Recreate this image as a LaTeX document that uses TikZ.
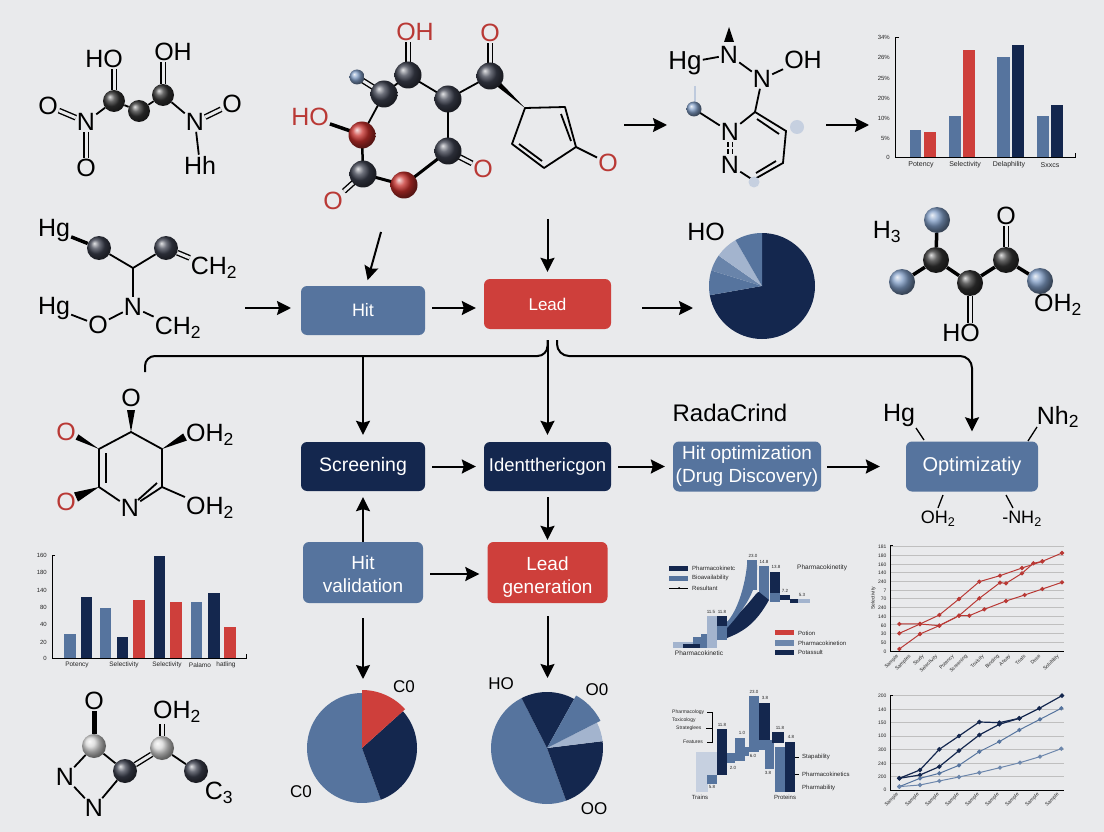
\documentclass[tikz,border=0pt]{standalone}
\usepackage{fontspec}
\setmainfont{Liberation Sans}
\usepackage{xcolor}
\usetikzlibrary{arrows.meta,calc}
\definecolor{pagebg}{HTML}{E9EAEC}
\definecolor{navy}{HTML}{14274E}
\definecolor{slate}{HTML}{56749E}
\definecolor{mist}{HTML}{A3B4CE}
\definecolor{pale}{HTML}{C6D0E0}
\definecolor{crim}{HTML}{CE3F3B}
\definecolor{atomd}{HTML}{3C404E}
\definecolor{atomr}{HTML}{C62F2B}
\definecolor{atomb}{HTML}{7F9CC5}
\definecolor{atomg}{HTML}{D6D6D6}
\tikzset{
  mol/.style={font=\fontsize{25}{27}\selectfont,inner sep=1pt},
  molred/.style={mol,text=crim!90!black},
  pielbl/.style={font=\fontsize{17}{19}\selectfont,inner sep=1pt},
  tiny/.style={font=\fontsize{6}{7}\selectfont,inner sep=0pt,text=black!85},
  tinyr/.style={tiny,anchor=east},
  tinyl/.style={tiny,anchor=west},
  tinyrot/.style={tiny,font=\fontsize{5}{6}\selectfont,anchor=north east,rotate=45},
  barlbl/.style={tiny,font=\fontsize{7}{8}\selectfont},
  valbl/.style={tiny,font=\fontsize{4.5}{5}\selectfont},
  atom/.style={circle,inner sep=0pt,minimum size=#1},
  dark/.style={atom=#1,ball color=atomd},
  redb/.style={atom=#1,ball color=atomr},
  blueb/.style={atom=#1,ball color=atomb},
  grayb/.style={atom=#1,ball color=atomg},
  jet/.style={atom=#1,ball color=black!80},
  bond/.style={line width=1.8pt},
  fatbond/.style={line width=3.5pt},
  dbl/.style={line width=1.4pt,double=pagebg,double distance=3pt},
  arr/.style={-{Stealth[length=14pt,width=14pt,inset=2pt]},line width=2pt},
  gap/.style={shorten <=7pt,shorten >=8pt},
  box/.style={rounded corners=6pt,text=white,align=center,inner sep=0pt,
    font=\fontsize{19}{23}\selectfont},
  gridl/.style={line width=.5pt,black!25},
  axisl/.style={line width=.9pt,black},
  trend/.style={line width=#1,mark=*,mark size=1.6pt},
}
\newcommand{\wedgebond}[3]{\fill (#1) -- ($(#2)!#3!90:(#1)$) -- ($(#2)!#3!-90:(#1)$) -- cycle;}

\begin{document}
\begin{tikzpicture}[x=1pt,y=-1pt]
\fill[pagebg] (0,0) rectangle (1104,832);
\useasboundingbox (0,0) rectangle (1104,832);
% ---------- top left molecule ----------
\node[mol] (aHO) at (104,59) {HO};
\node[mol] (aOH) at (173,52) {OH};
\node[mol] (aNl) at (86,122) {N};
\node[mol] (aOl) at (48,106) {O};
\node[mol] (aOb) at (86,168) {O};
\node[mol] (aNr) at (195,122) {N};
\node[mol] (aOr) at (232,104) {O};
\node[mol] (aHh) at (200,165) {Hh};
\node[jet=22pt] (ac1) at (114,101) {};
\node[jet=22pt] (ac2) at (139,111) {};
\node[jet=22pt] (ac3) at (163,95) {};
\draw[dbl] (ac1 |- aHO.south) -- (ac1);
\draw[dbl] (ac3 |- aOH.south) -- (ac3);
\draw[bond] (ac1) -- (ac2) -- (ac3);
\draw[bond] (ac1) -- (aNl);
\draw[bond] (ac3) -- (aNr);
\draw[dbl] (aNl) -- (aOl);
\draw[dbl] (aNl) -- (aOb);
\draw[dbl] (aNr) -- (aOr);
\draw[bond] (aNr) -- (aHh);
% ---------- top centre molecule ----------
\node[molred] (bOH) at (415,32) {OH};
\node[molred] (bO) at (490,33) {O};
\node[molred] (bHO) at (310,117) {HO};
\node[molred] (bOa) at (483,169) {O};
\node[molred] (bOb) at (333,201) {O};
\node[molred] (bOc) at (608,163) {O};
\coordinate (bp1) at (525,108);
\coordinate (bp2) at (565,107);
\coordinate (bp3) at (576,147);
\coordinate (bp4) at (544,168);
\coordinate (bp5) at (512,144);
\coordinate (bw) at (495,81);
\draw[dbl] (bOH.south -| 408,75) -- (408,75);
\draw[dbl] (bO) -- (490,76);
\draw[dbl] (357,77) -- (384,94);
\draw[bond] (384,94) -- (408,75) -- (448,99) -- (490,76);
\draw[bond] (384,94) -- (362,135);
\draw[fatbond] (bHO) -- (362,135);
\draw[bond,line width=2.5pt] (362,135) -- (363,174);
\draw[bond,line width=3pt] (363,174) -- (404,185) -- (448,151);
\draw[bond] (448,99) -- (448,151);
\draw[dbl] (448,151) -- (bOa);
\draw[dbl] (363,174) -- (bOb);
\wedgebond{bp1}{bw}{3pt}
\draw[bond,line join=round] (bp1) -- (bp2) -- (bp3) -- (bp4) -- (bp5) -- cycle;
\draw[bond] ($(bp2)+(-4,7)$) -- ($(bp3)+(-5,-6)$);
\draw[bond] ($(bp4)+(-2,-7)$) -- ($(bp5)+(7,0)$);
\draw[bond] (bp3) -- (bOc);
\node[dark=27pt] (bc1) at (408,75) {};
\node[dark=27pt] (bc2) at (384,94) {};
\node[dark=27pt] (bc3) at (448,99) {};
\node[dark=27pt] (bc4) at (490,76) {};
\node[dark=27pt] (bc5) at (363,174) {};
\node[dark=27pt] (bc6) at (448,151) {};
\node[redb=27pt] (br1) at (362,135) {};
\node[redb=27pt] (br2) at (404,185) {};
\node[blueb=15pt] (bb1) at (357,77) {};
% ---------- top molecule, nitrogen ring ----------
\coordinate (ca1) at (624,125);
\coordinate (ca2) at (667,125);
\draw[arr] (ca1) -- (ca2);
\node[mol,font=\fontsize{26}{28}\selectfont] (cHg) at (685,63) {Hg};
\node[mol] (cN1) at (729,55) {N};
\node[mol] (cN2) at (762,79) {N};
\node[mol] (cOH) at (803,60) {OH};
\node[mol] (cN3) at (730,132) {N};
\node[mol] (cN4) at (730,165) {N};
\fill (729,27) -- (724,42) -- (734,42) -- cycle;
\coordinate (cr1) at (755,112);
\coordinate (cr2) at (786,131);
\coordinate (cr3) at (783,163);
\coordinate (cr4) at (753,180);
\draw[bond] (cHg) -- (cN1);
\draw[bond] (cN1) -- (cN2);
\draw[bond] (cN2) -- (cOH);
\draw[bond] (cN2) -- (cr1);
\draw[bond] (cN3) -- (cr1);
\draw[bond] (cr1) -- (cr2) -- (cr3) -- (cr4) -- (cN4);
\draw[bond] ($(cr1)+(2,7)$) -- ($(cr2)+(-7,3)$);
\draw[bond] ($(cr3)+(-7,-2)$) -- ($(cr4)+(3,-7)$);
\draw[dbl,line width=1.2pt,dash pattern=on 5pt off 2pt] (cN3) -- (cN4);
\draw[line width=2.5pt,mist!70] (695,86) -- (695,104);
\draw[bond] (694,109) -- (cN3);
\node[blueb=15pt] (cb1) at (694,109) {};
\node[atom=14pt,fill=pale] (cb2) at (797,127) {};
\node[atom=11pt,fill=pale] (cb3) at (754,182) {};
\draw[arr] (826,125) coordinate (da1) -- (869,125) coordinate (da2);
% ---------- top right bars ----------
\foreach \xa/\xb/\ytop/\col in {910/921/130/slate,924/936/132/crim,949/961/116/slate,963/975/50/crim,
    997/1010/57/slate,1012/1024/45/navy,1037/1049/116/slate,1051/1063/105/navy}
  \fill[\col] (\xa,\ytop) rectangle (\xb,157);
\draw[axisl] (899,37) -- (895,37) -- (895,157) -- (1075,157) -- (1075,153);
\foreach \ylab/\ytxt in {0/157,5\%/138,10\%/118,20\%/98,25\%/78,26\%/57,34\%/37}
  \node[tinyr,name=dy\ytxt] at (890,\ytxt) {\ylab};
\foreach \xlab/\xtxt in {Potency/921,Selectivity/965,Delaphility/1009,Sxxcs/1050}
  \node[barlbl,name=dx\xtxt] at (\xtxt,165) {\xlab};
% ---------- second row ----------
\node[mol] (eHg) at (54,230) {Hg};
\node[mol] (eCH) at (214,268) {CH\textsubscript{2}};
\node[mol] (eN) at (133,307) {N};
\node[mol] (eHh) at (54,308) {Hg};
\node[mol] (eO) at (98,325) {O};
\node[mol] (eCL) at (178,328) {CH\textsubscript{2}};
\coordinate (ej) at (133,268);
\node[dark=24pt] (ec1) at (99,248) {};
\node[dark=24pt] (ec2) at (166,248) {};
\draw[fatbond] (eHg) -- (ec1);
\draw[bond] (ec1) -- (ej) -- (ec2);
\draw[dbl] (ec2) -- (eCH);
\draw[bond] (ej) -- (eN);
\draw[bond] (eHh) -- (eO);
\draw[bond] (eO) -- (eN);
\draw[bond] (eN) -- (eCL);
% ---------- boxes ----------
\node[box,fill=slate,minimum width=124pt,minimum height=49pt,font=\fontsize{18}{20}\selectfont] (hit) at (363,310.5) {Hit};
\node[box,fill=crim,minimum width=127pt,minimum height=50pt,font=\fontsize{17}{20}\selectfont] (lead) at (547.5,304) {Lead};
\node[box,fill=navy,minimum width=124pt,minimum height=49pt,font=\fontsize{19.5}{23}\selectfont] (screen) at (363,466.5) {Screening};
\node[box,fill=navy,minimum width=127pt,minimum height=49pt,font=\fontsize{18.5}{22}\selectfont] (ident) at (547.5,466.5) {Identthericgon};
\node[box,fill=slate,minimum width=120pt,minimum height=61pt] (hval) at (363,572.5) {\rule{0pt}{18pt}Hit\\validation};
\node[box,fill=crim,minimum width=120pt,minimum height=61pt] (lgen) at (547.5,572.5) {\rule{0pt}{18pt}Lead\\\raisebox{0pt}[\height][0pt]{generation}};
\node[box,fill=slate,minimum width=148pt,minimum height=50pt] (hopt) at (747,466.5) {Hit optimization\\(Drug Discovery)};
\node[box,fill=slate,minimum width=132pt,minimum height=50pt,font=\fontsize{20}{23}\selectfont] (opt) at (972,466.5) {Optimizatiy};
\node[mol,font=\fontsize{24}{26}\selectfont] (radar) at (730,413) {RadaCrind};
\node[mol] (oHg) at (899,415) {Hg};
\node[mol] (oNh) at (1058,417) {Nh\textsubscript{2}};
\node[pielbl,font=\fontsize{18}{20}\selectfont] (oOH) at (938,519) {OH\textsubscript{2}};
\node[pielbl,font=\fontsize{18}{20}\selectfont] (oNH) at (1022,519) {-NH\textsubscript{2}};
\draw[bond,line width=1.3pt] (916,428) -- (924,440);
\draw[bond,line width=1.3pt] (1037,427) -- (1028,441);
\draw[bond,line width=1.3pt] (943,495) -- (938,508);
\draw[bond,line width=1.3pt] (1006,495) -- (1013,508);
% ---------- connectors ----------
\coordinate (fa) at (381,232);
\coordinate (fb) at (547.5,219);
\coordinate (fc) at (245,308);
\coordinate (fd) at (642,308);
\coordinate (fe) at (693,308);
\coordinate (ff) at (547.5,340);
\coordinate (fg) at (557,340);
\coordinate (fh) at (145,372);
\draw[arr,shorten >=6pt] (fa) -- (366,286);
\draw[arr,shorten >=7pt] (fb) -- (lead.north);
\draw[arr] (fc) -- (291,308);
\draw[arr,gap] (hit.east |- 0,308) -- (lead.west |- 0,308);
\draw[arr] (fd) -- (fe);
\draw[line width=2pt,rounded corners=10pt] (fh) -- (145,356) -- (547.5,356) -- (ff);
\draw[arr,shorten >=7pt] (ff) -- (ident.north);
\draw[arr,shorten >=7pt] (screen.north |- 0,356) -- (screen.north);
\draw[arr,rounded corners=12pt,shorten >=10pt] (fg) -- (557,356) -- (972,356) -- (opt.north);
\draw[arr,gap] (screen) -- (ident);
\draw[arr,gap] (ident.east) -- (hopt.west);
\draw[arr,shorten <=6pt,shorten >=26pt] (hopt.east) -- (opt.west);
\draw[arr,shorten >=6pt] (hval.north) -- (screen.south);
\draw[arr,shorten <=6pt,shorten >=2pt] (ident.south) -- (lgen.north);
\draw[arr,gap] (hval.east |- 0,574) -- (lgen.west |- 0,574);
% ---------- right pie, upper ----------
\fill[navy] (762,286) -- (762,233) arc[start angle=-90,end angle=170,radius=53] -- cycle;
\fill[slate] (762,286) -- +(-190:53) arc[start angle=-190,end angle=-163,radius=53] -- cycle;
\fill[slate!75!mist] (762,286) -- +(-163:53) arc[start angle=-163,end angle=-145,radius=53] -- cycle;
\fill[mist] (762,286) -- +(-145:53) arc[start angle=-145,end angle=-120,radius=53] -- cycle;
\fill[slate] (762,286) -- +(-120:53) arc[start angle=-120,end angle=-90,radius=53] -- cycle;
\node[mol] (gHO) at (706,232) {HO};
% ---------- right molecule, second row ----------
\node[mol] (hH) at (887,232) {H\textsubscript{3}};
\node[mol] (hO) at (1006,216) {O};
\node[mol] (hOH) at (1058,305) {OH\textsubscript{2}};
\node[mol] (hHO) at (961,333) {HO};
\node[blueb=26pt] (hb1) at (937,220) {};
\node[blueb=26pt] (hb2) at (902,282) {};
\node[blueb=26pt] (hb3) at (1040,281) {};
\node[jet=26pt] (hk1) at (936,260) {};
\node[jet=26pt] (hk2) at (970,283) {};
\node[jet=26pt] (hk3) at (1006,260) {};
\draw[fatbond] (hb1) -- (hk1);
\draw[fatbond] (hb2) -- (hk1);
\draw[fatbond] (hk1) -- (hk2);
\draw[fatbond] (hk2) -- (hk3);
\draw[fatbond] (hk3) -- (hb3);
\draw[dbl] (hO) -- (hk3);
\draw[dbl] (hk2) -- (hk2 |- hHO.north);
% ---------- left molecule, third row ----------
\node[mol] (iO) at (131,398) {O};
\node[molred] (iOa) at (66,432) {O};
\node[molred] (iOb) at (66,502) {O};
\node[mol] (iOH) at (210,435) {OH\textsubscript{2}};
\node[mol] (iOI) at (210,508) {OH\textsubscript{2}};
\node[mol] (iN) at (130,508) {N};
\coordinate (ir1) at (131,432);
\coordinate (ir2) at (162,449);
\coordinate (ir3) at (162,487);
\coordinate (ir4) at (99,487);
\coordinate (ir5) at (99,449);
\draw[bond,line join=round] (iN) -- (ir4) -- (ir5) -- (ir1) -- (ir2) -- (ir3) -- (iN);
\draw[bond] (106,453) -- (106,483);
\draw[bond] (138,500) -- (157,483);
\draw[bond] (ir3) -- (iOI);
\wedgebond{ir1}{131,410}{4pt}
\wedgebond{ir5}{77,437}{3pt}
\wedgebond{ir4}{76,497}{5pt}
\wedgebond{ir2}{185,437}{4pt}
% ---------- left bars ----------
\foreach \xa/\xb/\ytop/\col in {64/76/634/slate,81/92/597/navy,100/111/608/slate,117/128/637/navy,133/145/600/crim,
    154/165/556/navy,170/182/602/crim,191/202/602/slate,208/220/593/navy,224/236/627/crim}
  \fill[\col] (\xa,\ytop) rectangle (\xb,658);
\draw[axisl] (55,555) -- (52,555) -- (52,658) -- (246,658) -- (246,654);
\foreach \ylab/\ytxt in {0/658,20/642,40/624,80/607,140/590,180/572,160/555}
  \node[tinyr,name=jy\ytxt] at (47,\ytxt) {\ylab};
\foreach \xlab/\xtxt in {Potency/77,Selectivity/124,Selectivity/167,Palamo/200,hatling/226}
  \node[barlbl,font=\fontsize{6.5}{8}\selectfont,name=jx\xtxt] at (\xtxt,665) {\xlab};
% ---------- bottom left molecule ----------
\node[mol] (kO) at (94,701) {O};
\node[mol] (kOH) at (177,712) {OH\textsubscript{2}};
\node[mol] (kN1) at (65,777) {N};
\node[mol] (kN2) at (94,808) {N};
\node[mol] (kC) at (219,793) {C\textsubscript{3}};
\node[grayb=24pt] (kg1) at (94,746) {};
\node[grayb=24pt] (kg2) at (162,748) {};
\node[dark=24pt] (kd1) at (125,771) {};
\node[dark=24pt] (kd2) at (196,771) {};
\draw[line width=5pt] (kO) -- (kg1);
\draw[dbl] (kOH.south -| kg2) -- (kg2);
\draw[bond] (kg1) -- (kN1);
\draw[bond] (kg1) -- (kd1);
\draw[dbl] (kd1) -- (kg2);
\draw[bond] (kg2) -- (kd2);
\draw[bond] (kN1) -- (kN2);
\draw[bond] (kN2) -- (kd1);
% ---------- bottom pies ----------
\draw[arr,shorten <=15pt] (hval.south) -- (363,679) coordinate (la);
\draw[arr,shorten <=13pt] (lgen.south) -- (547.5,678) coordinate (lb);
\fill[slate] (362,748) -- +(-90:55) arc[start angle=-90,end angle=-290,radius=55] -- cycle;
\fill[navy] (362,748) -- +(70:55) arc[start angle=70,end angle=-42,radius=55] -- cycle;
\fill[crim] (362,748) -- +(-42:58) arc[start angle=-42,end angle=-90,radius=58] -- cycle;
\node[pielbl] (mC) at (404,687) {C0};
\node[pielbl] (mD) at (301,792) {C0};
\fill[slate] (547,748) -- +(-117:56) arc[start angle=-117,end angle=-290,radius=56] -- cycle;
\fill[navy] (547,748) -- +(-61:56) arc[start angle=-61,end angle=-117,radius=56] -- cycle;
\fill[navy] (547,748) -- +(70:56) arc[start angle=70,end angle=-7,radius=56] -- cycle;
\fill[mist] (547,748) -- +(-7:56) arc[start angle=-7,end angle=-27,radius=56] -- cycle;
\fill[slate] (547,748) -- +(-27:60) arc[start angle=-27,end angle=-61,radius=60] -- cycle;
\node[pielbl] (nH) at (501,684) {HO};
\node[pielbl] (nO) at (597,690) {O0};
\node[pielbl] (nP) at (594,809) {OO};
% ---------- stepped chart, upper ----------
\foreach \xa/\ya/\xb/\yb/\col in {673/642/716/648/mist,693/637/701/648/slate,701/634/709/648/slate,
    683/644/700/648/navy,707/616/717/648/mist,717/616/727/626/navy,717/626/727/640/slate,
    747/560/757/590/slate,759/566/769/600/slate,770/572/780/593/navy,770/593/780/602/slate,
    780/595/790/600/navy,790/599/798/603/navy,798/599/810/603/mist}
  \fill[\col] (\xa,\ya) rectangle (\xb,\yb);
\fill[navy] (727,622) .. controls (745,612) and (757,590) .. (759,592) -- (769,600)
  .. controls (755,625) and (742,632) .. (727,638) -- cycle;
\fill[slate] (727,622) .. controls (738,610) and (745,585) .. (747,565) -- (757,565)
  .. controls (758,590) and (745,608) .. (727,628) -- cycle;
\fill[navy] (669,566) rectangle (688,571);
\fill[slate] (669,576) rectangle (688,581);
\draw[line width=.6pt] (669,588) -- (688,588);
\fill (679,588) circle (1);
\foreach \ytxt/\lab in {568/Pharmacokinetc,578/Bioavailability,588/Resultant}
  \node[tinyl,name=pl\ytxt] at (692,\ytxt) {\lab};
\node[tinyl,font=\fontsize{6.5}{8}\selectfont] (pr) at (797,568) {Pharmacokinetity};
\node[tiny,font=\fontsize{6.5}{8}\selectfont] (pb) at (699,653) {Pharmacokinetic};
\fill[crim] (775,630) rectangle (794,635);
\fill[slate!70!mist] (775,640) rectangle (794,646);
\fill[navy] (775,650) rectangle (794,655);
\foreach \ytxt/\lab in {633/Potion,643/Pharmacokinetion,652/Potassult}
  \node[tinyl,name=ps\ytxt] at (798,\ytxt) {\lab};
\foreach \xtxt/\ytxt/\lab in {753/556/23.0,764/562/14.8,776/567/13.8,785/591/7.2,802/595/5.3,711/612/11.5,722/612/11.8}
  \node[valbl,name=pv\xtxt] at (\xtxt,\ytxt) {\lab};
% ---------- stepped chart, lower ----------
\foreach \xa/\ya/\xb/\yb/\col in {696/752/708/792/pale,708/752/717/775/pale,707/775/717/784/slate,
    717/729/727/775/navy,727/753/735/763/slate,735/738/745/761/slate,745/747/749/756/slate,
    749/696/759/752/slate,759/740/765/750/slate,765/740/774/769/slate,759/703/770/740/navy,
    772/732/784/743/navy,775/747/785/792/slate,785/742/795/792/navy}
  \fill[\col] (\xa,\ya) rectangle (\xb,\yb);
\foreach \xtxt/\ytxt/\lab in {754/692/23.0,765/698/3.8,742/733/1.0,722/725/11.8,780/728/11.8,791/737/4.8,712/787/5.8,733/768/2.0,753/756/6.0,768/773/3.8}
  \node[valbl,name=qv\xtxt] at (\xtxt,\ytxt) {\lab};
\foreach \xtxt/\ytxt/\lab in {672/712/Pharmacology,672/720/Toxicology,676/728/Strateglees,683/742/Features}
  \node[tinyl,font=\fontsize{5}{6}\selectfont,name=ql\ytxt] at (\xtxt,\ytxt) {\lab};
\draw[line width=.5pt] (707,712) -- (712,712) -- (712,742) -- (707,742);
\draw[line width=.5pt] (706,728) -- (712,728);
\draw[line width=.5pt] (795,757) -- (799,757);
\draw[line width=.5pt] (795,774) -- (799,774);
\foreach \ytxt/\lab in {757/Stapability,774/Pharmacokinetics,788/Pharmability}
  \node[tinyl,name=qr\ytxt] at (802,\ytxt) {\lab};
\node[tiny] (qa) at (700,797) {Trains};
\node[tiny] (qb) at (785,797) {Proteins};
% ---------- line charts ----------
\begin{scope}[shift={(860,530)},x=0.3333pt,y=-0.3333pt]
  \foreach \y in {50,76,102,128,154,180,206,232,258,284,310,336}
    \draw[gridl] (92,\y) -- (612,\y);
  \draw[axisl] (98,45) -- (92,45) -- (92,365) -- (612,365);
  \foreach \ylab/\ytxt in {0/365,50/339,30/312,60/286,140/260,240/234,70/207,7/181,240/155,140/129,160/103,180/77,181/50}
    \node[tinyr,font=\fontsize{5}{6}\selectfont,name=ry\ytxt] at (80,\ytxt) {\ylab};
  \node[tiny,font=\fontsize{5}{6}\selectfont,rotate=90,name=ry] at (40,205) {Selectivity};
  \foreach \xlab/\xtxt in {Sample/108,Samples/145,Study/185,Selectivity/225,Potency/275,Screening/315,Toxicity/365,Binding/410,Assay/445,Trials/490,Dose/535,Solubility/590}
    \node[tinyrot,name=rx\xtxt] at (\xtxt,372) {\xlab};
  \draw[trend=1pt,crim!90!black,mark options={fill=crim!90!black}] plot coordinates {(118,282) (180,282) (238,287) (297,257) (328,257) (373,238) (438,213) (494,195) (547,177) (606,157)};
  \draw[trend=1pt,crim!90!black,mark options={fill=crim!90!black}] plot coordinates {(118,310) (180,282) (238,255) (297,207) (358,155) (420,137) (486,114) (547,94) (606,69)};
  \draw[trend=1pt,crim!90!black,mark options={fill=crim!90!black}] plot coordinates {(118,357) (180,312) (238,287) (297,257) (358,205) (420,158) (438,160) (486,130) (520,100) (547,94)};
  \foreach \y in {497,538,578,618,658,700,740}
    \draw[gridl] (92,\y) -- (612,\y);
  \draw[axisl] (98,497) -- (92,497) -- (92,780) -- (612,780);
  \foreach \ylab/\ytxt in {0/780,200/740,240/700,300/658,100/618,150/578,140/538,200/497}
    \node[tinyr,font=\fontsize{5}{6}\selectfont,name=sy\ytxt] at (80,\ytxt) {\ylab};
  \foreach \xtxt in {108,170,230,290,350,410,470,530,590}
    \node[tinyrot,name=sx\xtxt] at (\xtxt,786) {Sample};
  \draw[trend=1.2pt,navy,mark options={fill=navy}] plot coordinates {(118,745) (180,720) (238,658) (297,618) (358,576) (418,578) (478,565) (538,535) (606,497)};
  \draw[trend=1.2pt,navy,mark options={fill=navy}] plot coordinates {(118,745) (180,735) (238,710) (297,662) (358,615) (418,583) (478,565)};
  \draw[trend=1pt,slate,mark options={fill=slate}] plot coordinates {(118,770) (180,745) (238,730) (297,706) (358,665) (418,635) (478,600) (540,568) (604,535)};
  \draw[trend=1pt,slate!70!mist,mark options={fill=slate!70!mist}] plot coordinates {(118,770) (180,765) (238,753) (297,741) (358,728) (420,713) (480,698) (540,680) (604,656)};
\end{scope}
\end{tikzpicture}
\end{document}
